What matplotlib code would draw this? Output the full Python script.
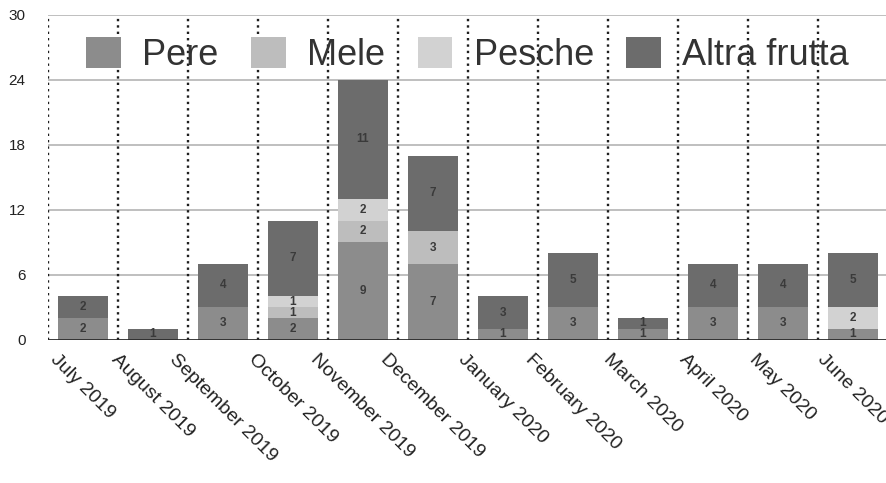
import matplotlib
matplotlib.use("Agg")
import matplotlib.pyplot as plt
from matplotlib.patches import Rectangle
import numpy as np

plt.rcParams['font.family'] = ['Liberation Sans', 'DejaVu Sans']

months = ["July 2019", "August 2019", "September 2019", "October 2019",
          "November 2019", "December 2019", "January 2020", "February 2020",
          "March 2020", "April 2020", "May 2020", "June 2020"]
pere = [2, 0, 3, 2, 9, 7, 1, 3, 1, 3, 3, 1]
mele = [0, 0, 0, 1, 2, 3, 0, 0, 0, 0, 0, 0]
pesche = [0, 0, 0, 1, 2, 0, 0, 0, 0, 0, 0, 2]
altra = [2, 1, 4, 7, 11, 7, 3, 5, 1, 4, 4, 5]

series_names = ["Pere", "Mele", "Pesche", "Altra frutta"]
series_values = [pere, mele, pesche, altra]
colors = ["#8c8c8c", "#bdbdbd", "#d2d2d2", "#6c6c6c"]
yticks = [0, 6, 12, 18, 24, 30]

fig = plt.figure(figsize=(8.86, 4.83), dpi=100)
ax = fig.add_axes([0.054, 0.297, 0.948, 0.672])

x = np.arange(len(months))
bottom = np.zeros(len(months))
for name, vals, col in zip(series_names, series_values, colors):
    vals = np.array(vals, dtype=float)
    ax.bar(x, vals, width=0.71, bottom=bottom, color=col, zorder=3)
    for xi, v, b in zip(x, vals, bottom):
        if v > 0:
            ax.text(xi, b + v / 2, f"{int(v)}", ha="center", va="center",
                    fontsize=8.5, fontweight="bold", color="#3a3a3a", zorder=4)
    bottom += vals

ax.set_xlim(-0.5, len(months) - 0.5)
ax.set_ylim(0, 30)
ax.set_yticks(yticks)
ax.set_yticklabels([str(t) for t in yticks], fontsize=11, color="#222222")
ax.set_xticks(x)
ax.set_xticklabels(months, rotation=-45, ha="center", va="top",
                   fontsize=14, color="#222222")
ax.tick_params(axis="y", length=0, pad=16)
ax.tick_params(axis="x", length=0, pad=8)

# horizontal grid
for t in yticks[1:]:
    ax.axhline(t, color="#b4b4b4", lw=1.2, zorder=1)
# dotted separators between months
for b in np.arange(-0.5, len(months), 1.0):
    ax.axvline(b, color="#1e1e1e", lw=1.7, linestyle=(0, (1, 1.7)), zorder=2)

for s in ax.spines.values():
    s.set_visible(False)
ax.axhline(0, color="#2a2a2a", lw=2, zorder=5)

handles = [Rectangle((0, 0), 1, 1, facecolor=c) for c in colors]
ax.legend(handles, series_names, loc="upper center", bbox_to_anchor=(0.5, 1.0),
          ncol=4, frameon=False, fontsize=26, handlelength=0.95,
          handleheight=0.95, handletextpad=0.6, columnspacing=0.9,
          borderaxespad=0.2, labelcolor="#333333")

fig.savefig("out.png", dpi=100)
